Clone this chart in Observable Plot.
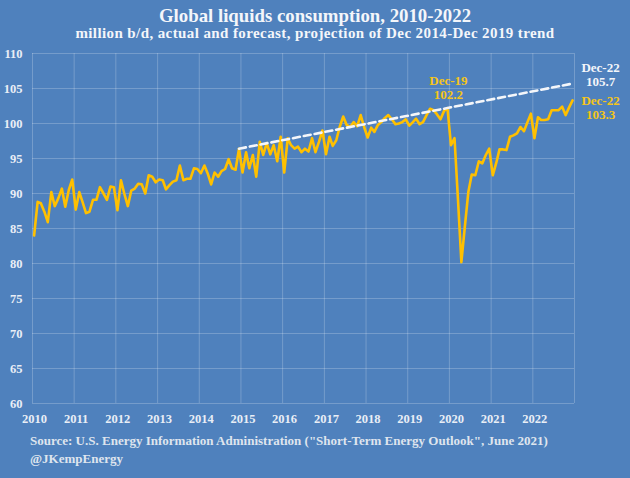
<!DOCTYPE html>
<html>
<head>
<meta charset="utf-8">
<script src="https://cdn.jsdelivr.net/npm/d3@7"></script>
<script src="https://cdn.jsdelivr.net/npm/@observablehq/plot@0.6"></script>
<style>
  html, body { margin: 0; padding: 0; background: #4f81bd; }
  #wrap { position: relative; width: 630px; height: 478px; background: #4f81bd; overflow: hidden;
          font-family: "Liberation Serif", "Times New Roman", serif; font-weight: bold; }
  #title { position: absolute; left: 0; top: 6px; width: 630px; text-align: center; font-size: 18.8px; line-height: 19px; color: #f4f6fa; }
  #subtitle { position: absolute; left: 0; top: 26px; width: 630px; text-align: center; font-size: 15px; line-height: 15px; letter-spacing: 0.4px; color: #f4f6fa; }
  #chart { position: absolute; left: 0; top: 45px; }
  #caption { position: absolute; left: 30px; top: 432px; font-size: 13px; line-height: 18px; color: #dfe5ee; white-space: nowrap; }
</style>
</head>
<body>
<div id="wrap">
  <div id="title">Global liquids consumption, 2010-2022</div>
  <div id="subtitle">million b/d, actual and forecast, projection of Dec 2014-Dec 2019 trend</div>
  <div id="chart"></div>
  <div id="caption">Source: U.S. Energy Information Administration ("Short-Term Energy Outlook", June 2021)<br>@JKempEnergy</div>
</div>
<script>
// ---- data (million b/d, monthly, Jan 2010 - Dec 2022) ----
const startYear = 2010;
const consumption = [
  // 2010
  84.0, 88.8, 88.6, 87.4, 85.9, 90.2, 88.2, 89.3, 90.7, 88.1, 90.5, 92.0,
  // 2011
  87.7, 90.2, 88.8, 87.2, 87.4, 89.1, 89.1, 90.9, 90.0, 89.1, 91.0, 90.9,
  // 2012
  87.6, 91.9, 90.0, 88.2, 90.4, 90.7, 91.4, 91.3, 90.0, 92.6, 92.4, 91.6,
  // 2013
  92.0, 91.9, 90.6, 91.2, 91.7, 91.9, 94.0, 91.9, 92.1, 92.1, 93.6, 93.5,
  // 2014
  92.9, 94.0, 92.9, 91.3, 93.0, 92.4, 93.2, 93.5, 94.9, 93.6, 93.4, 96.4,
  // 2015
  93.0, 95.9, 93.6, 95.5, 92.4, 97.4, 95.5, 97.2, 95.6, 96.9, 94.6, 98.1,
  // 2016
  93.0, 97.9, 96.9, 96.4, 96.7, 95.9, 96.4, 96.0, 97.9, 95.9, 97.4, 99.0,
  // 2017
  95.6, 98.1, 96.8, 97.6, 99.5, 101.0, 99.8, 99.5, 100.2, 99.6, 101.2, 99.5,
  // 2018
  98.0, 99.4, 98.8, 99.8, 100.2, 100.8, 101.2, 100.6, 99.9, 100.0, 100.2, 100.6,
  // 2019
  99.7, 100.2, 100.7, 99.9, 100.2, 101.2, 102.1, 101.9, 101.3, 100.6, 101.8, 102.2,
  // 2020
  96.9, 97.9, 89.5, 80.2, 85.2, 90.2, 92.7, 92.6, 94.6, 94.3, 95.5, 96.4,
  // 2021
  92.6, 94.4, 96.3, 96.3, 96.2, 98.1, 98.3, 98.6, 99.5, 98.9, 100.2, 101.4,
  // 2022
  97.9, 100.9, 100.5, 100.5, 100.6, 101.9, 101.9, 101.9, 102.4, 101.2, 102.3, 103.3
];
const trendMonths = ["2014-12", "2022-12"];
const trendValues = [96.4, 105.7];
const yTicks = [60, 65, 70, 75, 80, 85, 90, 95, 100, 105, 110];
const xTickYears = [2010, 2011, 2012, 2013, 2014, 2015, 2016, 2017, 2018, 2019, 2020, 2021, 2022];
const gridYears = [2010, 2011, 2012, 2013, 2014, 2015, 2016, 2017, 2018, 2019, 2020, 2021, 2022, 2023];
const labelMonths = ["2019-12", "2022-12", "2022-12"];
const labelValues = [102.2, 105.7, 103.3];
const labelTexts = ["Dec-19\n102.2", "Dec-22\n105.7", "Dec-22\n103.3"];

// ---- build tables ----
const monthDate = (ym) => { const [y, m] = ym.split("-").map(Number); return new Date(Date.UTC(y, m - 1, 15)); };
const series = consumption.map((v, i) => ({
  date: new Date(Date.UTC(startYear + Math.floor(i / 12), i % 12, 15)),
  value: v
}));
const trend = trendMonths.map((m, i) => ({ date: monthDate(m), value: trendValues[i] }));
const gold = "#ffc000";
const labelStyle = [
  { fill: "#f5c518", dx: 1, dy: -21 },
  { fill: "#f4f6fa", dx: 28, dy: -9 },
  { fill: "#f5c518", dx: 28, dy: 7 }
];
const labels = labelMonths.map((m, i) => ({ date: monthDate(m), value: labelValues[i], text: labelTexts[i] }));
const yearDate = (y) => new Date(Date.UTC(y, 0, 1));

const chart = Plot.plot({
  width: 630,
  height: 383,
  marginLeft: 32,
  marginRight: 56,
  marginTop: 8,
  marginBottom: 25,
  style: { background: "transparent", fontFamily: "'Liberation Serif', 'Times New Roman', serif", fontWeight: "bold", fontSize: "12.5px", color: "#e9eef6", overflow: "visible" },
  x: { type: "utc", domain: [yearDate(2010), yearDate(2023)] },
  y: { domain: [60, 110] },
  marks: [
    Plot.gridY(yTicks, { stroke: "#ffffff", strokeOpacity: 0.22, strokeWidth: 1 }),
    Plot.gridX(gridYears.map(yearDate), { stroke: "#ffffff", strokeOpacity: 0.22, strokeWidth: 1 }),
    Plot.axisY(yTicks, { tickSize: 0, tickPadding: 10, fontSize: 12.5, label: null }),
    Plot.axisX(xTickYears.map(yearDate), { tickSize: 0, tickPadding: 11, tickFormat: "%Y", fontSize: 12.5, dx: 2, label: null }),
    Plot.line(series, { x: "date", y: "value", stroke: gold, strokeWidth: 2.6, strokeLinejoin: "round" }),
    Plot.line(trend, { x: "date", y: "value", stroke: "#f4f6fa", strokeWidth: 2.6, strokeDasharray: "7,4" }),
    ...labels.map((d, i) => Plot.text([d], {
      x: "date", y: "value", text: "text",
      fill: labelStyle[i].fill, dx: labelStyle[i].dx, dy: labelStyle[i].dy,
      fontSize: 13, lineHeight: 1.1, fontWeight: "bold"
    }))
  ]
});
document.getElementById("chart").appendChild(chart);
</script>
</body>
</html>
